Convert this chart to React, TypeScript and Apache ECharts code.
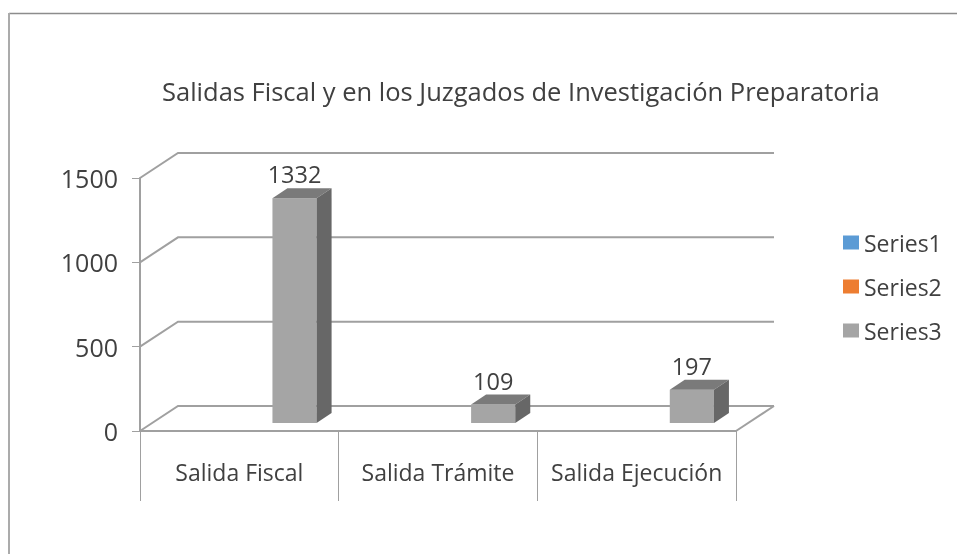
import React, { useEffect, useRef } from "react";
import * as echarts from "echarts";

const chartTitle = "Salidas Fiscal y en los Juzgados de Investigación Preparatoria";
const categories = ["Salida Fiscal", "Salida Trámite", "Salida Ejecución"];
const seriesNames = ["Series1", "Series2", "Series3"];
const series3Values = [1332, 109, 197];
const valueTicks = [0, 500, 1000, 1500];

const FONT = '"Open Sans", sans-serif';
const TEXT = "#404040";
const WALL = "#a0a0a0";
const DEPTH_X = 38;
const DEPTH_Y = 25;

export default function App() {
  const ref = useRef<HTMLDivElement>(null);
  useEffect(() => {
    document.body.style.margin = "0";
    const chart = echarts.init(ref.current!, undefined, { renderer: "svg" });

    const renderWall = (params: any, api: any) => {
      const v = api.value(0);
      const cs = params.coordSys;
      const y = api.coord([0, v])[1];
      const left = cs.x;
      const right = cs.x + cs.width;
      const children: any[] = [
        {
          type: "polyline",
          shape: {
            points: [
              [left, y],
              [left + DEPTH_X, y - DEPTH_Y],
              [right + DEPTH_X, y - DEPTH_Y],
            ],
          },
          style: { stroke: WALL, lineWidth: 2, fill: "none" },
        },
      ];
      if (v === 0) {
        children.push({
          type: "line",
          shape: { x1: right, y1: y, x2: right + DEPTH_X, y2: y - DEPTH_Y },
          style: { stroke: WALL, lineWidth: 2 },
        });
      }
      return { type: "group", children };
    };

    const renderBar = (_params: any, api: any) => {
      const cat = api.value(0);
      const val = api.value(1);
      const catWidth = api.size([1, 0])[0];
      const barW = catWidth / 4.5;
      const cx = api.coord([cat, 0])[0] + barW * 1.25;
      const base = api.coord([cat, 0])[1] - 8;
      const h = api.size([0, val])[1];
      const l = cx - barW / 2;
      const r = cx + barW / 2;
      const t = base - h;
      const dx = 15;
      const dy = 10;
      return {
        type: "group",
        children: [
          {
            type: "rect",
            shape: { x: l, y: t, width: barW, height: h },
            style: { fill: "#a5a5a5" },
          },
          {
            type: "polygon",
            shape: { points: [[l, t], [l + dx, t - dy], [r + dx, t - dy], [r, t]] },
            style: { fill: "#7a7a7a" },
          },
          {
            type: "polygon",
            shape: { points: [[r, t], [r + dx, t - dy], [r + dx, base - dy], [r, base]] },
            style: { fill: "#676767" },
          },
          {
            type: "text",
            style: {
              text: String(val),
              x: cx,
              y: t - 24,
              align: "center",
              verticalAlign: "middle",
              fill: TEXT,
              font: `23.5px ${FONT}`,
            },
          },
        ],
      };
    };

    chart.setOption({
      animation: false,
      backgroundColor: "#fff",
      title: {
        text: chartTitle,
        left: 157,
        top: 73,
        textStyle: { fontFamily: FONT, fontSize: 25.5, fontWeight: "normal", color: TEXT },
      },
      legend: {
        data: seriesNames,
        orient: "vertical",
        left: 838,
        top: 226,
        icon: "rect",
        itemWidth: 16,
        itemHeight: 14,
        itemGap: 21,
        selectedMode: false,
        textStyle: { fontFamily: FONT, fontSize: 23, color: TEXT },
      },
      grid: { left: 140, top: 178, width: 596, height: 253, containLabel: false },
      xAxis: {
        type: "category",
        data: categories,
        axisLine: { lineStyle: { color: WALL, width: 2 } },
        axisTick: { show: true, length: 70, lineStyle: { color: WALL, width: 1 } },
        axisLabel: { margin: 29, fontFamily: FONT, fontSize: 23, color: TEXT, interval: 0 },
      },
      yAxis: {
        type: "value",
        min: 0,
        max: 1500,
        interval: 500,
        splitLine: { show: false },
        axisLine: { show: true, lineStyle: { color: WALL, width: 2 } },
        axisTick: { show: true, length: 8, lineStyle: { color: WALL, width: 1 } },
        axisLabel: {
          margin: 22,
          fontFamily: FONT,
          fontSize: 25,
          color: TEXT,
          formatter: (v: number) => String(v),
        },
      },
      series: [
        {
          type: "custom",
          name: "walls",
          silent: true,
          renderItem: renderWall,
          data: valueTicks.map((v) => [v]),
          encode: { y: 0 },
          z: 1,
        },
        { type: "bar", name: seriesNames[0], data: [], itemStyle: { color: "#5b9bd5" } },
        { type: "bar", name: seriesNames[1], data: [], itemStyle: { color: "#ed7d31" } },
        {
          type: "custom",
          name: seriesNames[2],
          itemStyle: { color: "#a5a5a5" },
          renderItem: renderBar,
          data: series3Values.map((v, i) => [i, v]),
          encode: { x: 0, y: 1 },
          z: 3,
        },
      ],
      graphic: [
        {
          type: "line",
          shape: { x1: 9, y1: 13.5, x2: 957, y2: 13.5 },
          style: { stroke: "#8c8c8c", lineWidth: 1.5 },
          silent: true,
        },
        {
          type: "line",
          shape: { x1: 9, y1: 13, x2: 9, y2: 554 },
          style: { stroke: "#ababab", lineWidth: 2 },
          silent: true,
        },
      ],
    });
    return () => chart.dispose();
  }, []);
  return <div ref={ref} style={{ width: 957, height: 554, filter: "blur(0.4px)" }} />;
}
